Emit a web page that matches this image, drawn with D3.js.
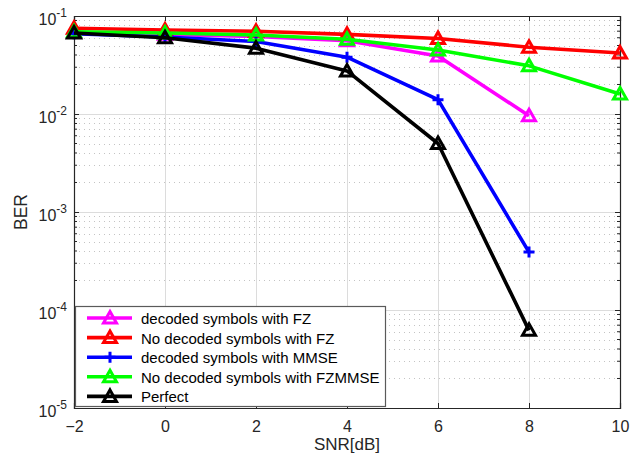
<!DOCTYPE html>
<html>
<head>
<meta charset="utf-8">
<script src="https://cdn.jsdelivr.net/npm/d3@7"></script>
<style>
  html, body { margin: 0; padding: 0; background: #fff; }
  svg { display: block; font-family: "Liberation Sans", Arial, Helvetica, sans-serif; }
</style>
</head>
<body>
<svg id="chart" width="630" height="456"></svg>
<script>
// SNR points (dB)
const snr = [-2, 0, 2, 4, 6, 8, 10];

// BER curves
const decodedFZ      = [0.068, 0.065, 0.062, 0.056, 0.039, 0.0096];
const noDecodedFZ    = [0.075, 0.072, 0.070, 0.065, 0.059, 0.048, 0.042];
const decodedMMSE    = [0.066, 0.061, 0.055, 0.038, 0.014, 0.00039];
const noDecodedFZMMSE= [0.069, 0.067, 0.064, 0.058, 0.045, 0.031, 0.016];
const perfect        = [0.067, 0.060, 0.047, 0.0275, 0.0050, 0.000062];

const seriesNames  = ["decoded symbols with FZ", "No decoded symbols with FZ",
                      "decoded symbols with MMSE", "No decoded symbols with FZMMSE", "Perfect"];
const seriesColors = ["#ff00ff", "#ff0000", "#0000ff", "#00ff00", "#000000"];
const seriesMarkers = ["tri", "tri", "plus", "tri", "tri"];
const seriesValues = [decodedFZ, noDecodedFZ, decodedMMSE, noDecodedFZMMSE, perfect];

const xTicks = [-2, 0, 2, 4, 6, 8, 10];
const yTickExps = [-1, -2, -3, -4, -5];

const svg = d3.select("#chart");
const plotL = 74, plotR = 620, plotT = 16, plotB = 408;

const x = d3.scaleLinear().domain([-2, 10]).range([plotL, plotR]);
const y = d3.scaleLog().domain([1e-5, 1e-1]).range([plotB, plotT]);

// minor values per decade
const minorVals = [];
for (let e = -5; e < -1; e++) {
  for (let m = 2; m <= 9; m++) minorVals.push(m * Math.pow(10, e));
}

const grid = svg.append("g");
// minor horizontal grid (dotted)
grid.selectAll("line.minor").data(minorVals).join("line")
  .attr("x1", plotL).attr("x2", plotR)
  .attr("y1", d => Math.round(y(d)) + 0.5).attr("y2", d => Math.round(y(d)) + 0.5)
  .attr("stroke", "#c4c4c4").attr("stroke-width", 1)
  .attr("stroke-dasharray", "1,4");
// major horizontal grid
grid.selectAll("line.hmaj").data(yTickExps.map(e => Math.pow(10, e))).join("line")
  .attr("x1", plotL).attr("x2", plotR)
  .attr("y1", d => Math.round(y(d)) + 0.5).attr("y2", d => Math.round(y(d)) + 0.5)
  .attr("stroke", "#dcdcdc").attr("stroke-width", 1);
// vertical grid
grid.selectAll("line.vmaj").data(xTicks).join("line")
  .attr("x1", d => Math.round(x(d)) + 0.5).attr("x2", d => Math.round(x(d)) + 0.5)
  .attr("y1", plotT).attr("y2", plotB)
  .attr("stroke", "#dcdcdc").attr("stroke-width", 1);

// axes: ticks drawn inward on all four sides
const axisColor = "#262626";
const xb = svg.append("g").attr("transform", `translate(0,${plotB})`)
  .call(d3.axisBottom(x).tickValues(xTicks).tickSize(-5).tickPadding(13).tickFormat(d3.format("d")));
const xt = svg.append("g").attr("transform", `translate(0,${plotT})`)
  .call(d3.axisTop(x).tickValues(xTicks).tickSize(-5).tickFormat(""));
const yl = svg.append("g").attr("transform", `translate(${plotL},0)`)
  .call(d3.axisLeft(y).tickValues(yTickExps.map(e => Math.pow(10, e))).tickSize(-5).tickFormat(""));
const yr = svg.append("g").attr("transform", `translate(${plotR},0)`)
  .call(d3.axisRight(y).tickValues(yTickExps.map(e => Math.pow(10, e))).tickSize(-5).tickFormat(""));
// minor y ticks
[[plotL, 3], [plotR, -3]].forEach(([px, len]) => {
  svg.append("g").selectAll("line").data(minorVals).join("line")
    .attr("x1", px).attr("x2", px + len)
    .attr("y1", d => y(d)).attr("y2", d => y(d))
    .attr("stroke", axisColor).attr("stroke-width", 1);
});
[xb, xt, yl, yr].forEach(g => {
  g.select(".domain").attr("stroke", axisColor).attr("stroke-width", 1.2);
  g.selectAll(".tick line").attr("stroke", axisColor);
});
xb.selectAll(".tick text").attr("fill", "#262626")
  .style("font-size", "16px").style("font-family", "Liberation Sans, Arial, sans-serif");

// y tick labels with superscript exponents
const ylab = svg.append("g");
yTickExps.forEach(e => {
  const t = ylab.append("text")
    .attr("x", 67).attr("y", y(Math.pow(10, e)) + 9)
    .attr("text-anchor", "end").attr("fill", "#262626")
    .style("font-size", "16px");
  t.append("tspan").text("10");
  t.append("tspan").attr("dy", -8).style("font-size", "12px").text(String(e));
});

// axis titles
svg.append("text").attr("x", 347).attr("y", 450).attr("text-anchor", "middle")
  .attr("fill", "#262626").style("font-size", "17px").text("SNR[dB]");
svg.append("text").attr("transform", "translate(27,212) rotate(-90)")
  .attr("text-anchor", "middle").attr("fill", "#262626").style("font-size", "17.5px").text("BER");

// markers
const triPath = "M0,-6.5L6.5,5L-6.5,5Z";
function drawMarker(g, type, color, cx, cy) {
  if (type === "tri") {
    g.append("path").attr("d", triPath).attr("transform", `translate(${cx},${cy})`)
      .attr("fill", "none").attr("stroke", color).attr("stroke-width", 3)
      .attr("stroke-linejoin", "miter");
  } else {
    g.append("path").attr("d", "M-5.5,0H5.5M0,-5.5V5.5").attr("transform", `translate(${cx},${cy})`)
      .attr("fill", "none").attr("stroke", color).attr("stroke-width", 3);
  }
}

const plot = svg.append("g");
const line = d3.line().x(d => x(d[0])).y(d => y(d[1]));
seriesValues.forEach((vals, i) => {
  const pts = vals.map((v, j) => [snr[j], v]);
  const g = plot.append("g");
  g.append("path").datum(pts).attr("d", line)
    .attr("fill", "none").attr("stroke", seriesColors[i]).attr("stroke-width", 3.6)
    .attr("stroke-linejoin", "round");
  pts.forEach(p => drawMarker(g, seriesMarkers[i], seriesColors[i], x(p[0]), y(p[1])));
});

// legend
const lg = svg.append("g");
lg.append("rect").attr("x", 75.5).attr("y", 306.5).attr("width", 310).attr("height", 100)
  .attr("fill", "#fff").attr("stroke", "#5a5a5a").attr("stroke-width", 1.2);
seriesNames.forEach((name, i) => {
  const ry = 318 + i * 19.6;
  lg.append("line").attr("x1", 87).attr("x2", 132).attr("y1", ry).attr("y2", ry)
    .attr("stroke", seriesColors[i]).attr("stroke-width", 3.6);
  drawMarker(lg, seriesMarkers[i], seriesColors[i], 110, ry);
  lg.append("text").attr("x", 141).attr("y", ry + 6).attr("fill", "#000")
    .style("font-size", "15px").text(name);
});
</script>
</body>
</html>
